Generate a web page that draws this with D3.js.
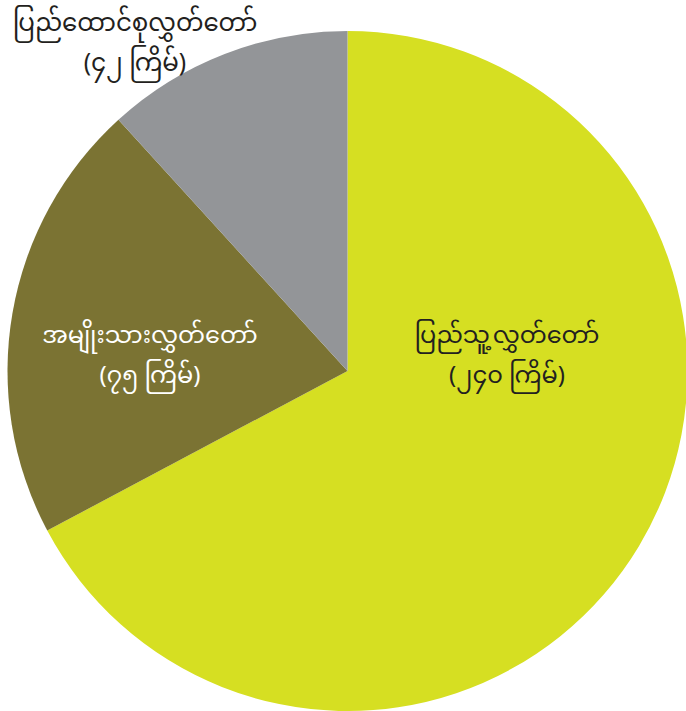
<!DOCTYPE html>
<html><head><meta charset="utf-8">
<script src="https://cdn.jsdelivr.net/npm/d3@7"></script>
<style>
html,body{margin:0;padding:0;background:#fff;}
svg{display:block;}
text{font-family:"Noto Sans Myanmar","Myanmar Text","Padauk","Noto Sans","DejaVu Sans",sans-serif;}
</style></head>
<body>
<script>
const categories = ["ပြည်သူ့လွှတ်တော်", "အမျိုးသားလွှတ်တော်", "ပြည်ထောင်စုလွှတ်တော်"];
const values = [240, 75, 42];
const valueLabels = ["(၂၄၀ ကြိမ်)", "(၇၅ ကြိမ်)", "(၄၂ ကြိမ်)"];
const colors = ["#d6df22", "#7b7333", "#939598"];
const textColors = ["#231f20", "#ffffff", "#231f20"];

const W = 686, H = 711;
const cx = 347.5, cy = 371, R = 340;
const labelPos = [[507, 343, 24], [150, 343, 24], [135, 31, 24.5]];

const svg = d3.select("body").append("svg").attr("width", W).attr("height", H);
const pie = d3.pie().sort(null).value(d => d.v);
const arc = d3.arc().innerRadius(0).outerRadius(R);
const data = categories.map((c, i) => ({c, v: values[i], lab: valueLabels[i], i}));

const g = svg.append("g").attr("transform", `translate(${cx},${cy})`);
g.selectAll("path").data(pie(data)).join("path")
  .attr("d", arc).attr("fill", d => colors[d.data.i]);

const lg = svg.append("g");
data.forEach(d => {
  const [x, y, fs] = labelPos[d.i];
  const t = lg.append("text").attr("x", x).attr("y", y)
    .attr("text-anchor", "middle").attr("fill", textColors[d.i])
    .attr("font-size", fs);
  t.append("tspan").attr("x", x).attr("dy", 0).text(d.c);
  t.append("tspan").attr("x", x).attr("dy", 40).text(d.lab);
});
</script>
</body></html>
